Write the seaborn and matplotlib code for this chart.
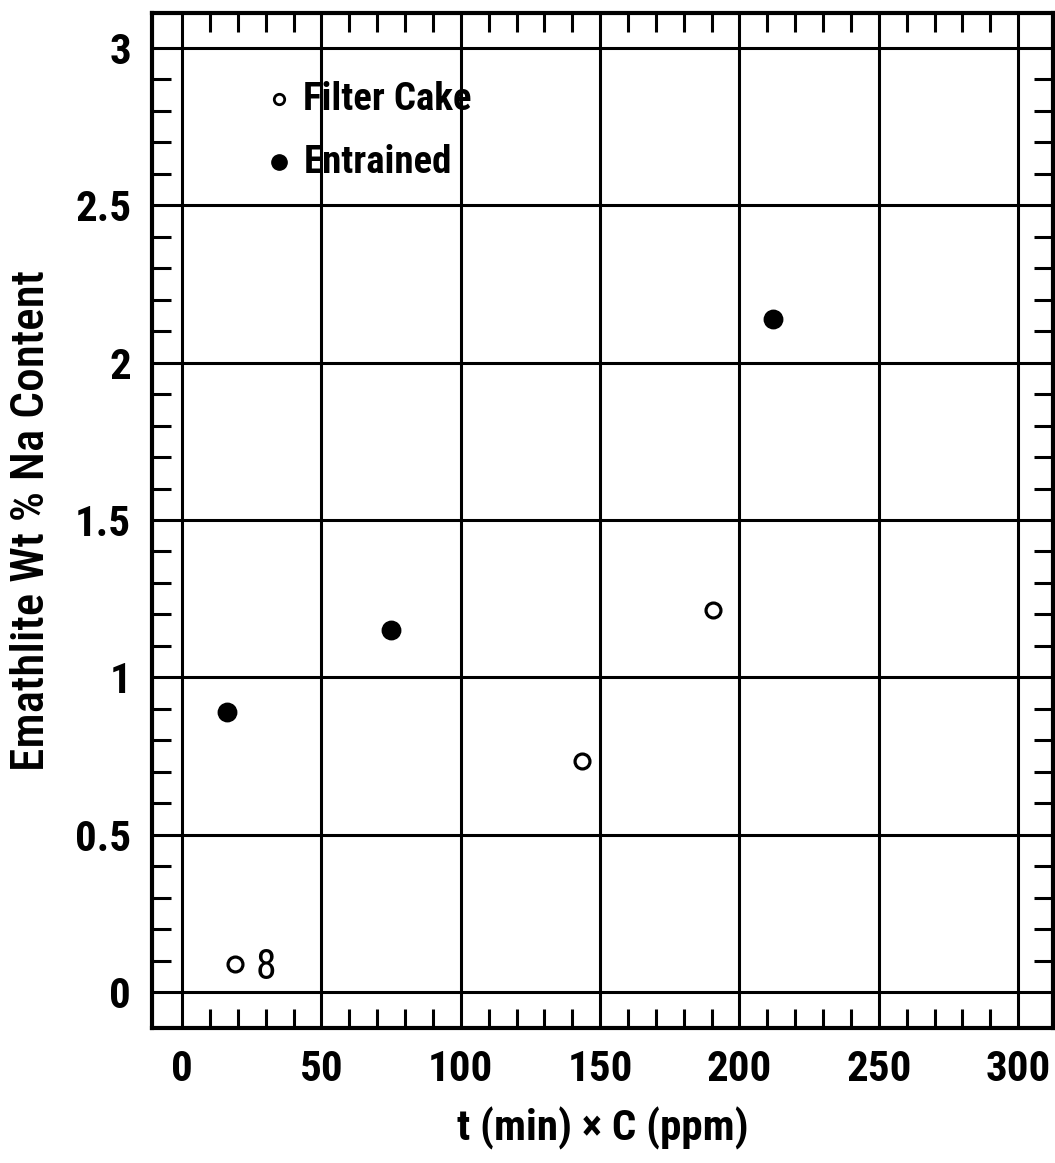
import matplotlib
matplotlib.use("Agg")
import matplotlib.pyplot as plt
import seaborn as sns
import numpy as np
import pandas as pd
from matplotlib.ticker import FixedLocator

# data
filter_x = [19.0, 143.5, 190.5]
filter_y = [0.09, 0.735, 1.215]
entrained_x = [16.0, 75.0, 212.0]
entrained_y = [0.89, 1.15, 2.14]
x_ticks = [0, 50, 100, 150, 200, 250, 300]
y_ticks = [0, 0.5, 1, 1.5, 2, 2.5, 3]
y_ticklabels = ["0", "0.5", "1", "1.5", "2", "2.5", "3"]
x_minor = [v for v in range(10, 300, 10) if v % 50 != 0]
y_minor = [round(v * 0.1, 1) for v in range(1, 30) if v % 5 != 0]

df = pd.DataFrame({
    "x": filter_x + entrained_x,
    "y": filter_y + entrained_y,
    "kind": ["Filter Cake"] * len(filter_x) + ["Entrained"] * len(entrained_x),
})

sns.set_style("white")
plt.rcParams['font.family'] = ['Roboto Condensed', 'DejaVu Sans']
plt.rcParams['text.color'] = 'black'
plt.rcParams['axes.labelcolor'] = 'black'
plt.rcParams['xtick.color'] = 'black'
plt.rcParams['ytick.color'] = 'black'

fig = plt.figure(figsize=(10.55, 11.63), dpi=100)
ax = fig.add_axes([0.1441, 0.1161, 0.854, 0.8727])

fc = df[df.kind == "Filter Cake"]
en = df[df.kind == "Entrained"]
sns.scatterplot(data=fc, x="x", y="y", ax=ax, marker="o", s=115,
                facecolor="white", edgecolor="black", linewidth=2.3, zorder=5)
sns.scatterplot(data=en, x="x", y="y", ax=ax, marker="o", s=175,
                color="black", edgecolor="black", zorder=5)

ax.annotate("8", (filter_x[0], filter_y[0]), xytext=(15, -3), textcoords="offset points",
            ha="left", va="center", fontsize=30)

# legend: markers + text in axes coords
ax.plot([0.141], [0.915], marker="o", ms=7.5, mfc="white", mec="black", mew=2,
        transform=ax.transAxes, ls="none")
ax.text(0.168, 0.915, "Filter Cake", transform=ax.transAxes, fontsize=28,
        fontweight="bold", va="center", ha="left")
ax.plot([0.141], [0.853], marker="o", ms=11, color="black",
        transform=ax.transAxes, ls="none")
ax.text(0.168, 0.853, "Entrained", transform=ax.transAxes, fontsize=28,
        fontweight="bold", va="center", ha="left")

ax.set_xlim(-10.8, 312.5)
ax.set_ylim(-0.114, 3.111)

ax.xaxis.set_major_locator(FixedLocator(x_ticks))
ax.yaxis.set_major_locator(FixedLocator(y_ticks))
ax.set_yticklabels(y_ticklabels)
ax.xaxis.set_minor_locator(FixedLocator(x_minor))
ax.yaxis.set_minor_locator(FixedLocator(y_minor))

ax.grid(True, which="major", color="black", linewidth=2.2)
for s in ax.spines.values():
    s.set_color("black")
    s.set_linewidth(3)

ax.tick_params(which="major", direction="in", length=0, labelsize=31, pad=15,
               top=True, right=True, labeltop=False, labelright=False)
ax.tick_params(which="minor", direction="in", length=14, width=2.2, color="black",
               top=True, right=True, bottom=True, left=True)
for lab in ax.get_xticklabels() + ax.get_yticklabels():
    lab.set_fontweight("bold")

ax.set_xlabel("t (min) \u00d7 C (ppm)", fontsize=31, fontweight="bold", labelpad=12)
ax.set_ylabel("Emathlite Wt % Na Content", fontsize=34, fontweight="medium", labelpad=16)

fig.savefig("out.png", dpi=100)
